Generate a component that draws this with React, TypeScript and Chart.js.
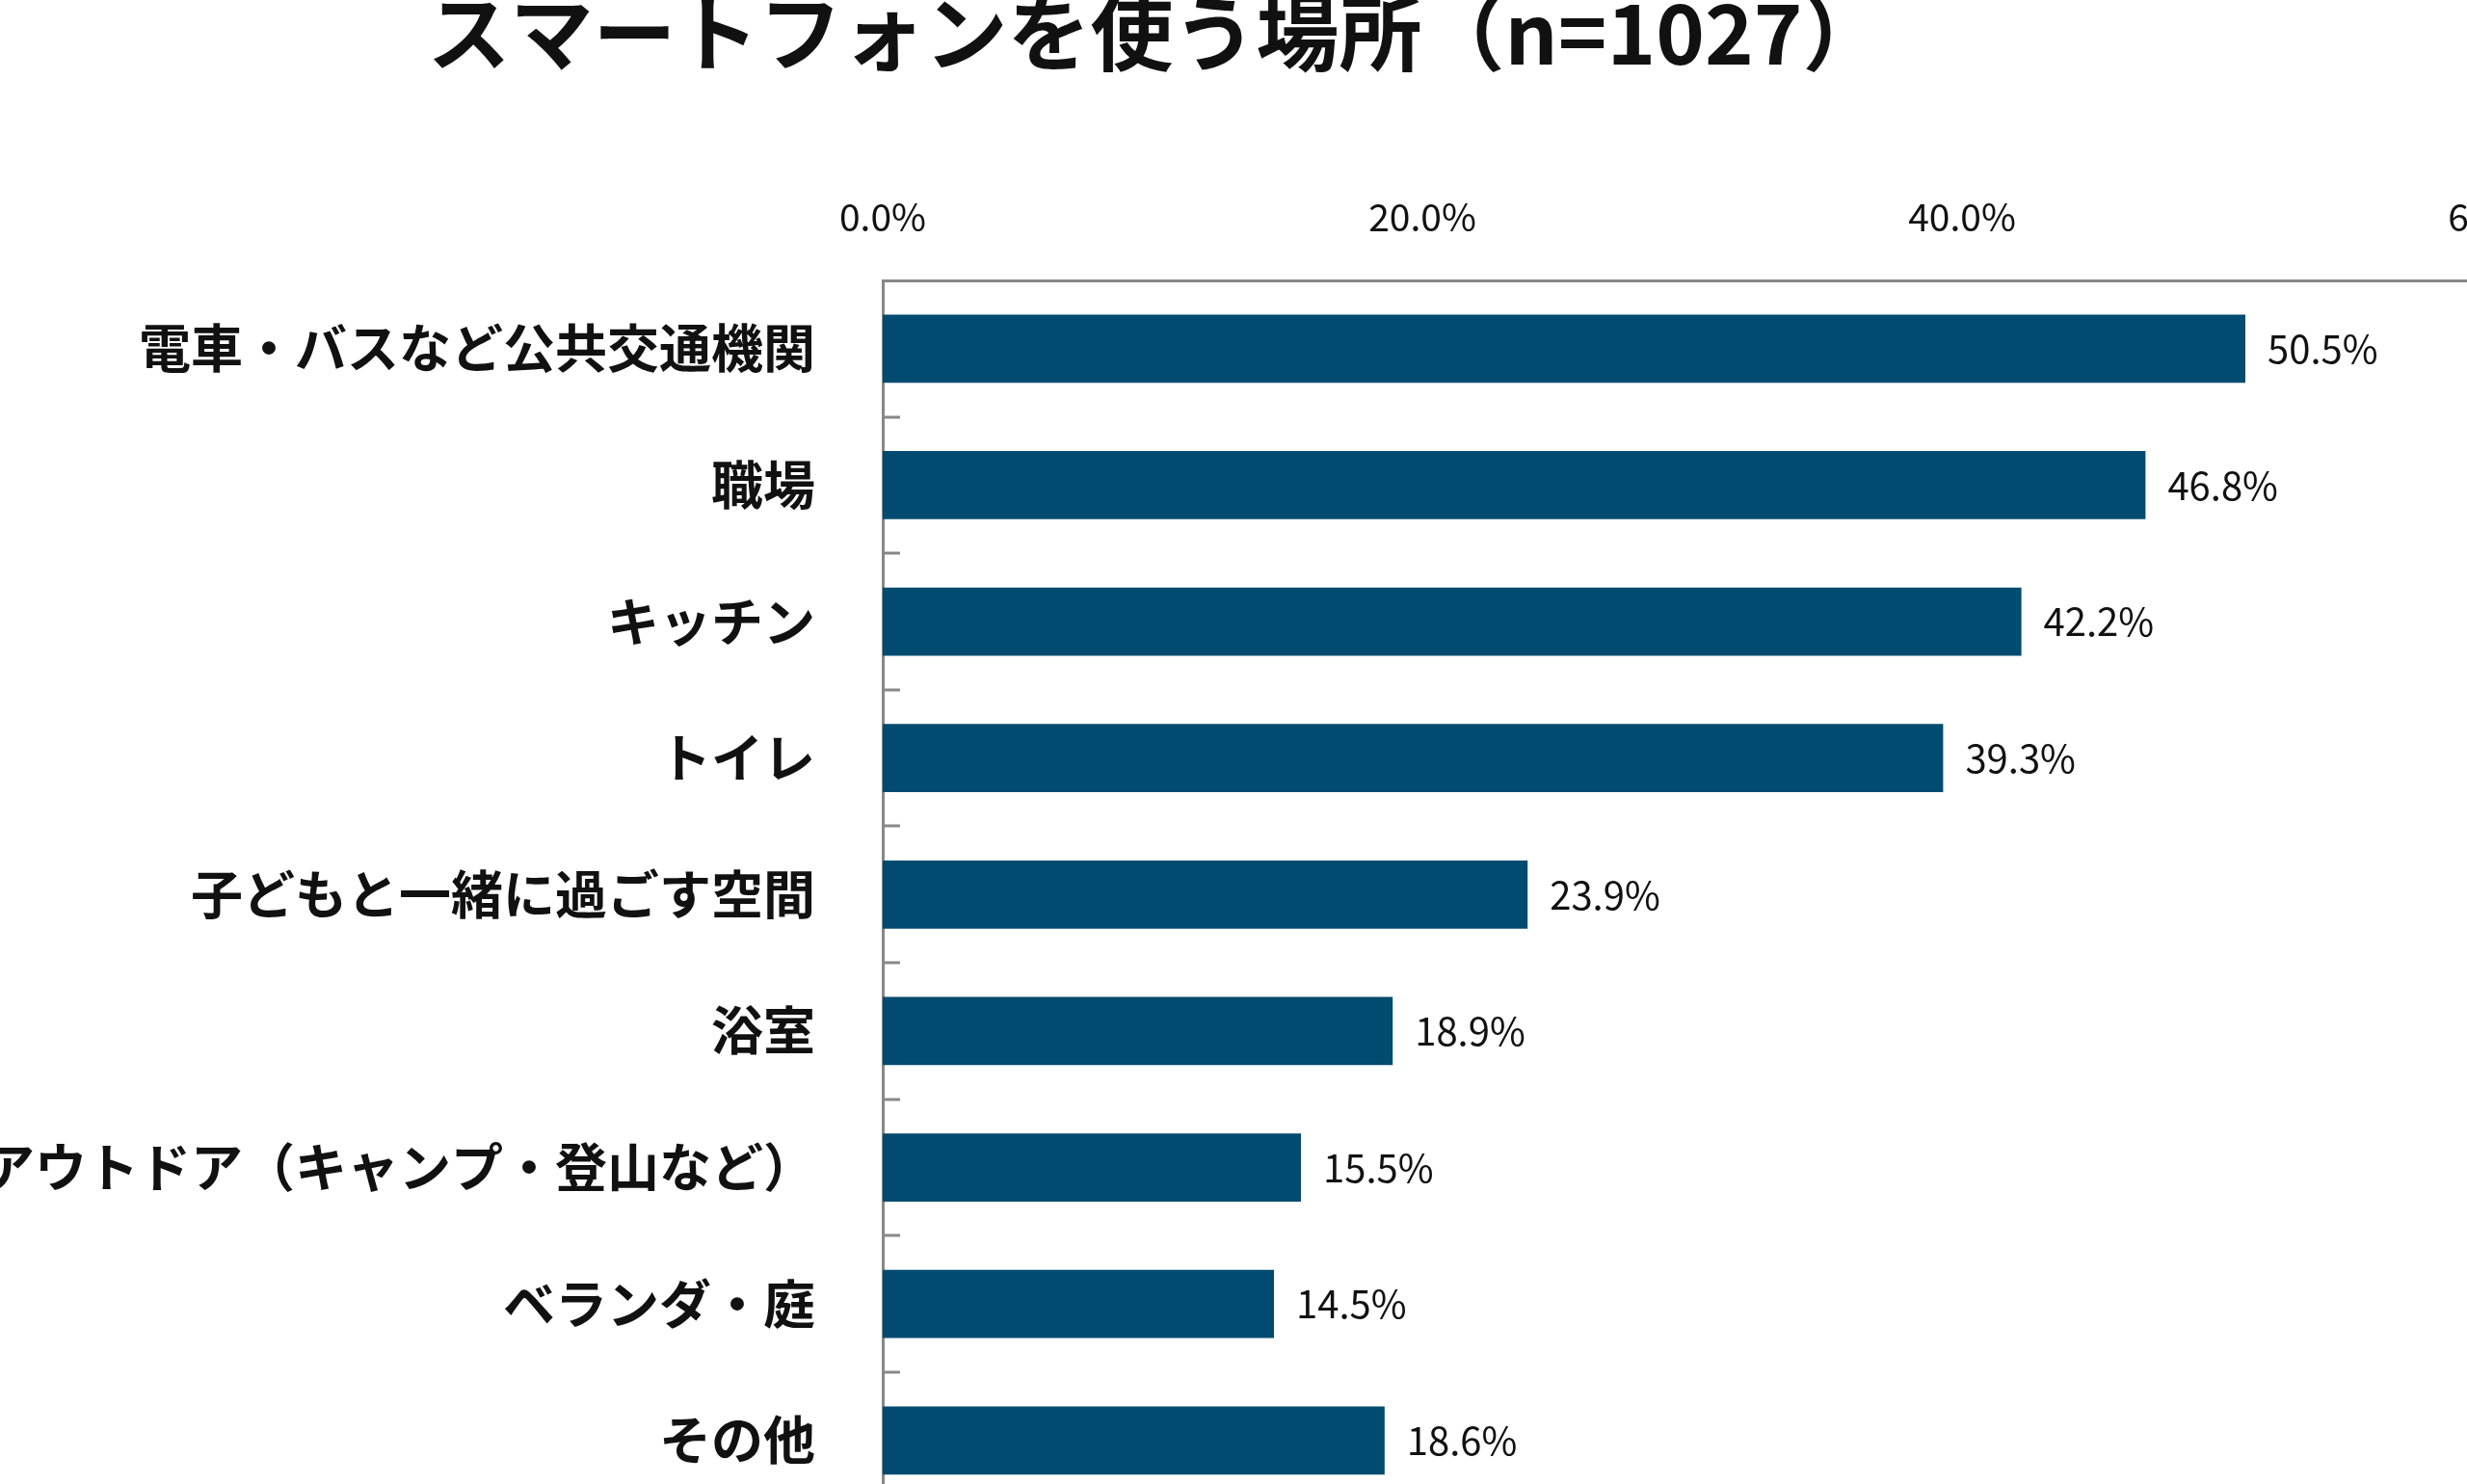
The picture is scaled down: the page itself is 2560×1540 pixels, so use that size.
import React, { useEffect, useRef } from "react";
import { Chart, registerables } from "chart.js";
Chart.register(...registerables);

const TITLE = "スマートフォンを使う場所（n=1027）";
const categories = [
  "電車・バスなど公共交通機関",
  "職場",
  "キッチン",
  "トイレ",
  "子どもと一緒に過ごす空間",
  "浴室",
  "アウトドア（キャンプ・登山など）",
  "ベランダ・庭",
  "その他",
];
const values = [50.5, 46.8, 42.2, 39.3, 23.9, 18.9, 15.5, 14.5, 18.6];

const FONT = "'Noto Sans CJK JP', 'Noto Sans', sans-serif";

export default function App() {
  const ref = useRef<HTMLCanvasElement>(null);
  useEffect(() => {
    document.body.style.margin = "0";
    const extras = {
      id: "extras",
      afterDraw(chart: any) {
        const ctx = chart.ctx;
        const a = chart.chartArea;
        ctx.save();
        ctx.font = `bold 86px ${FONT}`;
        ctx.fillStyle = "#111";
        ctx.textAlign = "center";
        ctx.textBaseline = "middle";
        ctx.fillText(TITLE, 1200, 34);
        const n = categories.length;
        const step = (a.bottom - a.top) / n;
        ctx.strokeStyle = "#888";
        ctx.lineWidth = 3;
        for (let i = 1; i < n; i++) {
          const y = Math.round(a.top + i * step);
          ctx.beginPath();
          ctx.moveTo(a.left, y);
          ctx.lineTo(a.left + 18, y);
          ctx.stroke();
        }
        ctx.font = `40px ${FONT}`;
        ctx.fillStyle = "#111";
        ctx.textAlign = "left";
        const meta = chart.getDatasetMeta(0);
        meta.data.forEach((bar: any, i: number) => {
          ctx.fillText(values[i].toFixed(1) + "%", bar.x + 23, bar.y);
        });
        ctx.restore();
      },
    };
    const chart = new Chart(ref.current!, {
      type: "bar",
      data: {
        labels: categories,
        datasets: [
          {
            data: values,
            backgroundColor: "#024B70",
            barPercentage: 0.5,
            categoryPercentage: 1,
          },
        ],
      },
      options: {
        indexAxis: "y",
        animation: false,
        responsive: false,
        devicePixelRatio: 1,
        layout: { padding: { left: 0, top: 0, right: 104, bottom: 38 } },
        plugins: { legend: { display: false }, tooltip: { enabled: false } },
        scales: {
          x: {
            position: "top",
            min: 0,
            max: 60,
            grid: { display: false },
            border: { display: true, color: "#888", width: 3 },
            ticks: {
              stepSize: 20,
              padding: 34,
              color: "#111",
              font: { size: 39, family: FONT },
              callback: (v: any) => Number(v).toFixed(1) + "%",
            },
            afterFit: (s: any) => { s.height = 291; },
          },
          y: {
            grid: { display: false },
            border: { display: true, color: "#888", width: 3 },
            ticks: {
              padding: 62,
              color: "#111",
              font: { size: 54, weight: "bold", family: FONT },
            },
            afterFit: (s: any) => { s.width = 916; },
          },
        },
      },
      plugins: [extras],
    });
    return () => chart.destroy();
  }, []);
  return (
    <div style={{ width: 2560, height: 1540, overflow: "hidden", position: "relative", background: "#fff" }}>
      <canvas ref={ref} width={2700} height={1660} style={{ position: "absolute", left: 0, top: 0, width: 2700, height: 1660 }} />
    </div>
  );
}
